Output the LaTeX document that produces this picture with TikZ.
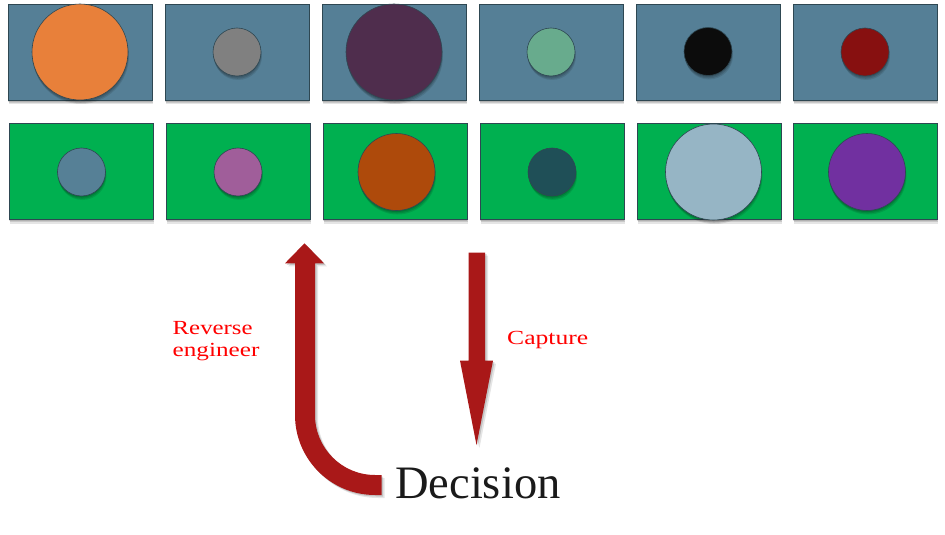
\documentclass[tikz,border=0pt]{standalone}
\usepackage{fontspec}
\setmainfont{Liberation Serif}
\usetikzlibrary{shadows}
\definecolor{topfill}{HTML}{557F96}
\definecolor{botfill}{HTML}{00B050}
\definecolor{edge}{HTML}{2E4752}
\definecolor{cOrange}{HTML}{E8803A}
\definecolor{cGray}{HTML}{808080}
\definecolor{cPlum}{HTML}{4F2D4D}
\definecolor{cMint}{HTML}{68AB8D}
\definecolor{cBlack}{HTML}{0C0C0C}
\definecolor{cRed}{HTML}{871010}
\definecolor{cSteel}{HTML}{568096}
\definecolor{cPink}{HTML}{A05E9A}
\definecolor{cBrown}{HTML}{AE4A0B}
\definecolor{cTeal}{HTML}{1F4F57}
\definecolor{cSky}{HTML}{96B5C5}
\definecolor{cViolet}{HTML}{7130A0}
\definecolor{arrowred}{HTML}{A91818}
\definecolor{ink}{HTML}{1A1A1A}
\begin{document}
\begin{tikzpicture}[x=1pt,y=-1pt,
  shade/.style={
    drop shadow={shadow xshift=0pt,shadow yshift=-1.5pt,opacity=0.12,fill=black},
    drop shadow={shadow xshift=0.5pt,shadow yshift=-2.8pt,opacity=0.12,fill=black},
    drop shadow={shadow xshift=1pt,shadow yshift=-4pt,opacity=0.10,fill=black}},
  panel/.style={draw=edge,line width=0.8pt,minimum width=144pt,minimum height=96pt,inner sep=0pt,shade},
  toppanel/.style={panel,fill=topfill},
  botpanel/.style={panel,fill=botfill},
  disc/.style={circle,draw=edge,line width=0.6pt,inner sep=0pt,shade,fill=#1},
  small/.style={minimum size=48pt},
  mid/.style={minimum size=77pt},
  big/.style={minimum size=96pt},
  fatarrow/.style={fill=arrowred,
    drop shadow={shadow xshift=1.5pt,shadow yshift=-1.5pt,opacity=0.15,fill=black},
    drop shadow={shadow xshift=3pt,shadow yshift=-3pt,opacity=0.10,fill=black}},
  lbl/.style={text=red,inner sep=0pt,font=\fontsize{20}{22}\selectfont},
]
\useasboundingbox (0,0) rectangle (945,535);

% top row
\node[toppanel] (t1) at (80,52) {};
\node[toppanel] (t2) at (237,52) {};
\node[toppanel] (t3) at (394,52) {};
\node[toppanel] (t4) at (551,52) {};
\node[toppanel] (t5) at (708,52) {};
\node[toppanel] (t6) at (865,52) {};
\node[disc=cOrange,big] (ct1) at (80,52) {};
\node[disc=cGray,small] (ct2) at (237,52) {};
\node[disc=cPlum,big] (ct3) at (394,52) {};
\node[disc=cMint,small] (ct4) at (551,52) {};
\node[disc=cBlack,small] (ct5) at (708,51.5) {};
\node[disc=cRed,small] (ct6) at (865,52) {};

% bottom row
\node[botpanel] (b1) at (81,171.5) {};
\node[botpanel] (b2) at (238,171.5) {};
\node[botpanel] (b3) at (395,171.5) {};
\node[botpanel] (b4) at (552,171.5) {};
\node[botpanel] (b5) at (709,171.5) {};
\node[botpanel] (b6) at (865,171.5) {};
\node[disc=cSteel,small] (cb1) at (81.5,172) {};
\node[disc=cPink,small] (cb2) at (238,172) {};
\node[disc=cBrown,mid] (cb3) at (396.5,172) {};
\node[disc=cTeal,small] (cb4) at (552,172) {};
\node[disc=cSky,big] (cb5) at (713.5,172) {};
\node[disc=cViolet,mid] (cb6) at (867,172) {};

% decision
\node[text=ink,inner sep=0pt,anchor=base west,font=\fontsize{46.5}{50}\selectfont] (dec) at (395,498.3) {Decision};

% reverse engineer arrow (from decision up to the bottom row)
\fill[fatarrow] (295,263.3) -- (295,415) arc (180:90:80) -- (381.7,495) -- (381.7,475)
  -- (375,475) arc (90:180:60) -- (315,263.3) -- (324,263.3) -- (304.5,243.3) -- (285,263.3) -- cycle;

% capture arrow (down to decision)
\fill[fatarrow] (468.5,252.7) -- (485,252.7) -- (485,360.7) -- (493,360.7) -- (476.5,445)
  -- (460,360.7) -- (468.5,360.7) -- cycle;

% labels
\node[lbl,align=left,anchor=base west] (rev) at (172.5,356) {\scalebox{1.24}[1]{Reverse}\\\scalebox{1.26}[1]{engineer}};
\node[lbl,anchor=base west] (cap) at (507,344.5) {\scalebox{1.28}[1]{Capture}};
\end{tikzpicture}
\end{document}
